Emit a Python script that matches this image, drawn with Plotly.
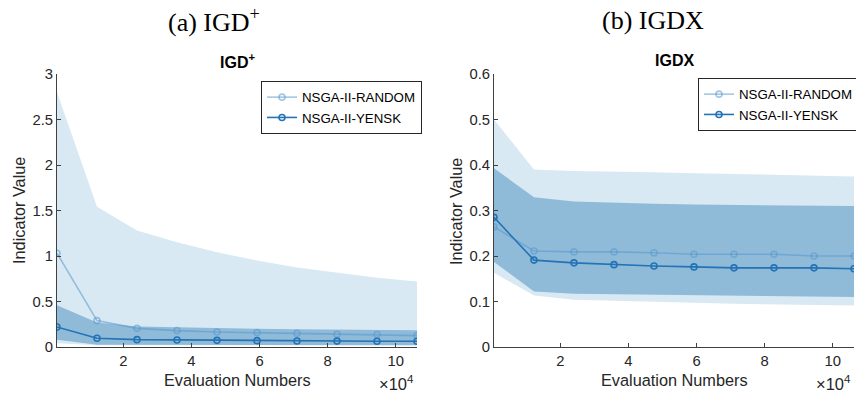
import plotly.graph_objects as go

# Evaluation numbers at which the indicators were recorded
evals = [500, 12250, 24000, 35750, 47500, 59250, 71000, 82750, 94500, 106250]

# IGD+ : mean and shaded spread per algorithm
igdp_random = [1.03, 0.29, 0.205, 0.18, 0.165, 0.158, 0.15, 0.14, 0.136, 0.125]
igdp_random_hi = [2.80, 1.54, 1.28, 1.15, 1.04, 0.95, 0.875, 0.82, 0.76, 0.72]
igdp_random_lo = [0.04, 0.02, 0.02, 0.02, 0.02, 0.02, 0.02, 0.02, 0.02, 0.02]
igdp_yensk = [0.22, 0.096, 0.081, 0.077, 0.073, 0.07, 0.066, 0.065, 0.064, 0.063]
igdp_yensk_hi = [0.46, 0.27, 0.225, 0.215, 0.205, 0.2, 0.195, 0.19, 0.19, 0.185]
igdp_yensk_lo = [0.08, 0.025, 0.022, 0.022, 0.021, 0.021, 0.02, 0.02, 0.02, 0.02]

# IGDX : mean and shaded spread per algorithm
igdx_random = [0.264, 0.211, 0.209, 0.209, 0.207, 0.204, 0.204, 0.204, 0.20, 0.20]
igdx_random_hi = [0.50, 0.39, 0.387, 0.386, 0.384, 0.382, 0.380, 0.378, 0.376, 0.375]
igdx_random_lo = [0.163, 0.113, 0.104, 0.101, 0.099, 0.097, 0.095, 0.094, 0.092, 0.091]
igdx_yensk = [0.285, 0.191, 0.185, 0.181, 0.178, 0.176, 0.174, 0.174, 0.174, 0.172]
igdx_yensk_hi = [0.393, 0.329, 0.32, 0.317, 0.315, 0.313, 0.312, 0.311, 0.311, 0.31]
igdx_yensk_lo = [0.187, 0.122, 0.117, 0.116, 0.115, 0.114, 0.113, 0.112, 0.111, 0.11]

x_tick_vals = [20000, 40000, 60000, 80000, 100000]
x_tick_text = ["2", "4", "6", "8", "10"]
igdp_ticks = [0, 0.5, 1, 1.5, 2, 2.5, 3]
igdp_tick_text = ["0", "0.5", "1", "1.5", "2", "2.5", "3"]
igdx_ticks = [0, 0.1, 0.2, 0.3, 0.4, 0.5, 0.6]
igdx_tick_text = ["0", "0.1", "0.2", "0.3", "0.4", "0.5", "0.6"]

C_RANDOM_BAND = "#d9e9f3"
C_YENSK_BAND = "#8fbbd9"
C_RANDOM = "rgba(88,152,204,0.55)"
C_YENSK = "#2373b5"
AX = "#404040"
FONT = "Liberation Sans, Arial, sans-serif"
SERIF = "Liberation Serif, Times New Roman, serif"

fig = go.Figure()


def band(x, lo, hi, color, xa, ya):
    fig.add_trace(go.Scatter(
        x=list(x) + list(x[::-1]), y=list(hi) + list(lo[::-1]),
        fill="toself", fillcolor=color, line=dict(width=0),
        mode="lines", hoverinfo="skip", showlegend=False,
        xaxis=xa, yaxis=ya))


def curve(x, y, color, name, xa, ya, legend):
    fig.add_trace(go.Scatter(
        x=x, y=y, mode="lines+markers", name=name,
        line=dict(color=color, width=1.6),
        marker=dict(symbol="circle-open", size=6, color=color,
                    line=dict(width=1.6, color=color)),
        xaxis=xa, yaxis=ya, legend=legend))


band(evals, igdp_random_lo, igdp_random_hi, C_RANDOM_BAND, "x", "y")
band(evals, igdp_yensk_lo, igdp_yensk_hi, C_YENSK_BAND, "x", "y")
curve(evals, igdp_random, C_RANDOM, "NSGA-II-RANDOM", "x", "y", "legend")
curve(evals, igdp_yensk, C_YENSK, "NSGA-II-YENSK", "x", "y", "legend")

band(evals, igdx_random_lo, igdx_random_hi, C_RANDOM_BAND, "x2", "y2")
band(evals, igdx_yensk_lo, igdx_yensk_hi, C_YENSK_BAND, "x2", "y2")
curve(evals, igdx_random, C_RANDOM, "NSGA-II-RANDOM", "x2", "y2", "legend2")
curve(evals, igdx_yensk, C_YENSK, "NSGA-II-YENSK", "x2", "y2", "legend2")

W, H = 856, 400
px = lambda v: v / W
py = lambda v: 1 - v / H

axis_common = dict(showline=True, linecolor=AX, linewidth=1, ticks="inside",
                   ticklen=4, tickcolor=AX, showgrid=False, zeroline=False,
                   automargin=False,
                   tickfont=dict(family=FONT, size=14.8, color="#262626"),
                   mirror=False)

legend_common = dict(xanchor="left", yanchor="top", bgcolor="white",
                     bordercolor="#262626", borderwidth=1,
                     font=dict(family=FONT, size=13.3, color="black"),
                     tracegroupgap=0, itemwidth=30)

fig.update_layout(
    width=W, height=H, margin=dict(l=0, r=0, t=0, b=0, autoexpand=False),
    paper_bgcolor="white", plot_bgcolor="white",
    xaxis=dict(domain=[px(57), px(417)], range=[evals[0], evals[-1]],
               tickvals=x_tick_vals, ticktext=x_tick_text, anchor="y",
               **axis_common),
    yaxis=dict(domain=[py(347), py(74)], range=[0, 3], tickvals=igdp_ticks,
               ticktext=igdp_tick_text, anchor="x", **axis_common),
    xaxis2=dict(domain=[px(494), px(854)], range=[evals[0], evals[-1]],
                tickvals=x_tick_vals, ticktext=x_tick_text, anchor="y2",
                **axis_common),
    yaxis2=dict(domain=[py(347), py(74)], range=[0, 0.6], tickvals=igdx_ticks,
                ticktext=igdx_tick_text, anchor="x2", **axis_common),
    legend=dict(x=px(261), y=py(81), **legend_common),
    legend2=dict(x=px(698), y=py(78), **legend_common),
    showlegend=True,
)


def label(text, x, y, size, family=FONT, color="#262626", angle=0,
          xanchor="center"):
    return dict(text=text, x=px(x), y=py(y), xref="paper", yref="paper",
                showarrow=False, xanchor=xanchor, yanchor="middle",
                textangle=angle,
                font=dict(family=family, size=size, color=color))


ann = [
    # caption-style headings above each panel
    label("(a) IGD<sup>+</sup>", 214, 20, 26, SERIF, "black"),
    label("(b) IGDX", 653, 20, 26, SERIF, "black"),
    # panel titles
    label("<b>IGD<sup>+</sup></b>", 237, 61, 16, color="black"),
    label("<b>IGDX</b>", 674, 61, 16, color="black"),
    # axis titles
    label("Evaluation Numbers", 237, 380, 16.3),
    label("Evaluation Numbers", 674, 380, 16.3),
    label("Indicator Value", 19, 211, 16.3, angle=-90),
    label("Indicator Value", 456, 211, 16.3, angle=-90),
    # exponent markers for the x axes
    label("×10<sup>4</sup>", 416, 383, 16.5, xanchor="right"),
    label("×10<sup>4</sup>", 853, 383, 16.5, xanchor="right"),
]
fig.update_layout(annotations=ann)

fig.write_html("out.html")
